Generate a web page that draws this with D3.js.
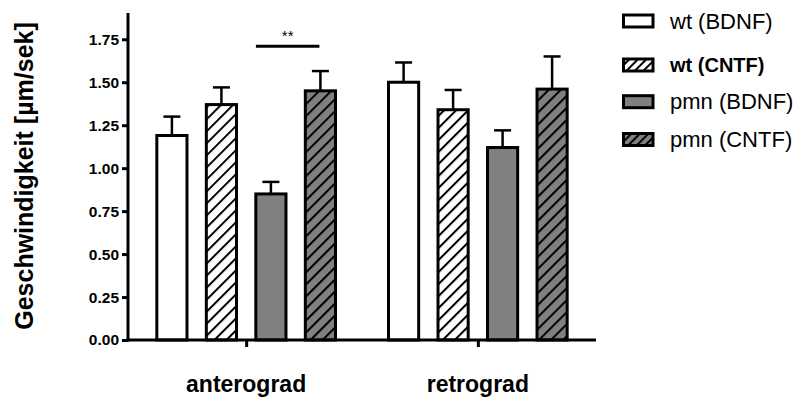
<!DOCTYPE html>
<html>
<head>
<meta charset="utf-8">
<script src="https://cdn.jsdelivr.net/npm/d3@7"></script>
<style>
  html, body { margin: 0; padding: 0; background: #fff; }
  svg { display: block; font-family: "Liberation Sans", Arial, sans-serif; }
</style>
</head>
<body>
<svg id="chart" width="800" height="398"></svg>
<script>
// ---- data ----
const categories = ["anterograd", "retrograd"];
const seriesNames = ["wt (BDNF)", "wt (CNTF)", "pmn (BDNF)", "pmn (CNTF)"];
const wtBDNF  = [1.19, 1.50];
const wtCNTF  = [1.37, 1.34];
const pmnBDNF = [0.85, 1.12];
const pmnCNTF = [1.45, 1.46];
const wtBDNF_err  = [0.11, 0.115];
const wtCNTF_err  = [0.10, 0.115];
const pmnBDNF_err = [0.07, 0.10];
const pmnCNTF_err = [0.115, 0.19];
const yTicks = [0, 0.25, 0.5, 0.75, 1.0, 1.25, 1.5, 1.75];
const significance = { category: "anterograd", from: "pmn (BDNF)", to: "pmn (CNTF)", value: 1.71, label: "**" };

const values = [wtBDNF, wtCNTF, pmnBDNF, pmnCNTF];
const errors = [wtBDNF_err, wtCNTF_err, pmnBDNF_err, pmnCNTF_err];

// ---- styles ----
const styles = [
  { fill: "#ffffff", hatch: false },
  { fill: "#ffffff", hatch: true },
  { fill: "#808080", hatch: false },
  { fill: "#808080", hatch: true }
];

const svg = d3.select("#chart");
const defs = svg.append("defs");
function makePattern(id, bg, size) {
  const p = defs.append("pattern")
    .attr("id", id)
    .attr("patternUnits", "userSpaceOnUse")
    .attr("width", size).attr("height", size)
    .attr("patternTransform", "rotate(45)");
  p.append("rect").attr("width", size).attr("height", size).attr("fill", bg);
  p.append("line").attr("x1", 1).attr("y1", 0).attr("x2", 1).attr("y2", size)
    .attr("stroke", "#000").attr("stroke-width", 2);
}
makePattern("hatch-white", "#ffffff", 8.5);
makePattern("hatch-gray", "#808080", 8.5);
makePattern("lhatch-white", "#ffffff", 6);
makePattern("lhatch-gray", "#808080", 6);
function fillFor(i, legend) {
  const s = styles[i];
  if (!s.hatch) return s.fill;
  const pre = legend ? "lhatch-" : "hatch-";
  return s.fill === "#ffffff" ? `url(#${pre}white)` : `url(#${pre}gray)`;
}

// ---- scales ----
const x0 = d3.scalePoint().domain(categories).range([128, 596]).padding(0.51);
const x1 = d3.scaleBand().domain(seriesNames).range([-99, 99]).paddingInner(0.33).paddingOuter(0.165);
const y = d3.scaleLinear().domain([0, 1.9]).range([340, 13.5]);

// ---- bars ----
const rows = [];
categories.forEach((c, ci) => {
  seriesNames.forEach((s, si) => {
    rows.push({ cat: c, series: s, si, v: values[si][ci], e: errors[si][ci] });
  });
});
const cx = d => x0(d.cat) + x1(d.series) + x1.bandwidth() / 2;

const g = svg.append("g");
g.selectAll("line.err").data(rows).enter().append("line")
  .attr("class", "err")
  .attr("x1", cx).attr("x2", cx)
  .attr("y1", d => y(d.v))
  .attr("y2", d => y(d.v + d.e))
  .attr("stroke", "#000").attr("stroke-width", 2.5);
g.selectAll("line.cap").data(rows).enter().append("line")
  .attr("class", "cap")
  .attr("x1", d => cx(d) - 8.5)
  .attr("x2", d => cx(d) + 8.5)
  .attr("y1", d => y(d.v + d.e))
  .attr("y2", d => y(d.v + d.e))
  .attr("stroke", "#000").attr("stroke-width", 2.5);

g.selectAll("rect.bar").data(rows).enter().append("rect")
  .attr("class", "bar")
  .attr("x", d => x0(d.cat) + x1(d.series) + 1.5)
  .attr("width", x1.bandwidth() - 3)
  .attr("y", d => y(d.v))
  .attr("height", d => y(0) - y(d.v))
  .attr("fill", d => fillFor(d.si, false))
  .attr("stroke", "#000").attr("stroke-width", 3);

// ---- axes ----
const yAxis = d3.axisLeft(y).tickValues(yTicks).tickFormat(d3.format(".2f")).tickSize(6).tickPadding(3).tickSizeOuter(0);
const ya = svg.append("g").attr("transform", "translate(128,0)").call(yAxis);
ya.select(".domain").attr("stroke", "#000").attr("stroke-width", 3).attr("d", `M0,${y(1.9) - 0.5}V${y(0) + 1.5}`);
ya.selectAll(".tick line").attr("stroke", "#000").attr("stroke-width", 3);
ya.selectAll(".tick text").attr("font-size", 15.5).attr("font-weight", "bold")
  .attr("font-family", "Liberation Sans, Arial, sans-serif").attr("fill", "#000");

const xAxis = d3.axisBottom(x0).tickSize(7).tickFormat("").tickSizeOuter(0);
const xa = svg.append("g").attr("transform", `translate(0,${y(0)})`).call(xAxis);
xa.select(".domain").attr("stroke", "#000").attr("stroke-width", 3).attr("d", "M126.5,0H596");
xa.selectAll(".tick line").attr("stroke", "#000").attr("stroke-width", 3);

svg.selectAll("text.xlab").data(categories).enter().append("text")
  .attr("class", "xlab")
  .attr("x", d => x0(d))
  .attr("y", 392)
  .attr("text-anchor", "middle")
  .attr("font-size", 23).attr("font-weight", "bold").attr("fill", "#000")
  .text(d => d);

svg.append("text")
  .attr("transform", "translate(33,176) rotate(-90)")
  .attr("text-anchor", "middle")
  .attr("font-size", 25).attr("font-weight", "bold").attr("fill", "#000")
  .text("Geschwindigkeit [µm/sek]");

// ---- significance ----
const sx1 = cx({ cat: significance.category, series: significance.from }) - 15;
const sx2 = cx({ cat: significance.category, series: significance.to }) - 1;
svg.append("line")
  .attr("x1", sx1).attr("x2", sx2)
  .attr("y1", y(significance.value)).attr("y2", y(significance.value))
  .attr("stroke", "#000").attr("stroke-width", 3);
svg.append("text")
  .attr("x", (sx1 + sx2) / 2)
  .attr("y", y(significance.value) - 5)
  .attr("text-anchor", "middle")
  .attr("font-size", 15).attr("fill", "#000")
  .text(significance.label);

// ---- legend ----
const legendRowY = [21, 65, 101.7, 139.5];
const legendFont = [{ size: 22, weight: "normal" }, { size: 20, weight: "bold" }, { size: 22, weight: "normal" }, { size: 22, weight: "normal" }];
const lg = svg.append("g");
seriesNames.forEach((s, i) => {
  lg.append("rect")
    .attr("x", 623.5).attr("y", legendRowY[i] - 6)
    .attr("width", 29.5).attr("height", 12)
    .attr("fill", fillFor(i, true))
    .attr("stroke", "#000").attr("stroke-width", 3);
  lg.append("text")
    .attr("x", 670).attr("y", legendRowY[i]).attr("dy", "0.35em")
    .attr("font-size", legendFont[i].size).attr("font-weight", legendFont[i].weight)
    .attr("fill", "#000")
    .text(s);
});
</script>
</body>
</html>
